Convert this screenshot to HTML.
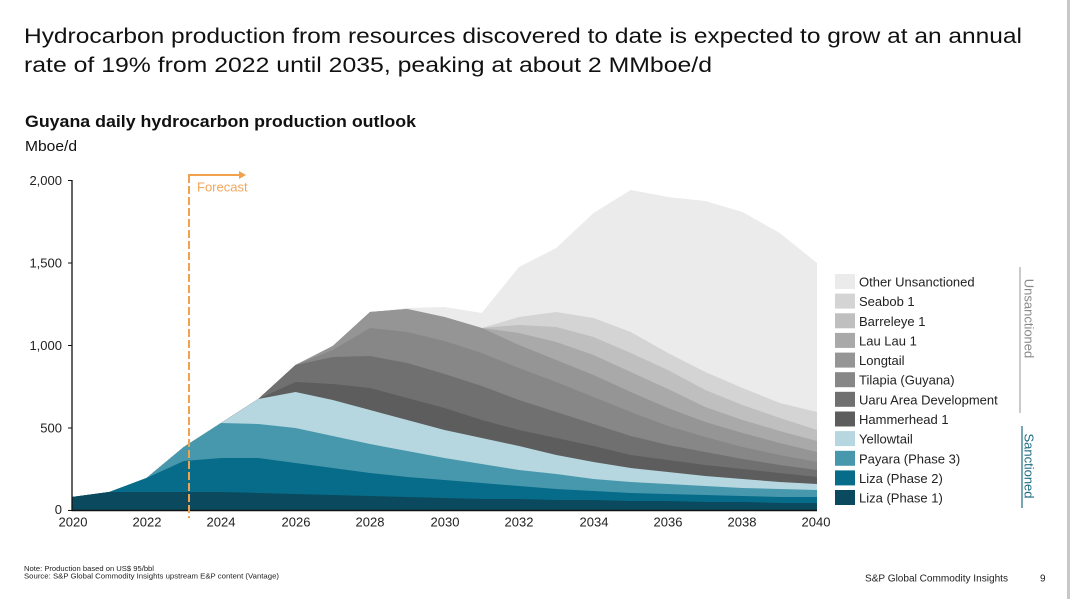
<!DOCTYPE html>
<html>
<head>
<meta charset="utf-8">
<style>
  html, body { margin: 0; padding: 0; background: #ffffff; }
  body { width: 1070px; height: 599px; overflow: hidden; }
  svg { display: block; font-family: "Liberation Sans", Arial, sans-serif; }
</style>
</head>
<body>
<svg width="1070" height="599" viewBox="0 0 1070 599" xmlns="http://www.w3.org/2000/svg">
  <rect x="0" y="0" width="1070" height="599" fill="#ffffff"/>
  <!-- right slide border -->
  <rect x="1067" y="0" width="3" height="599" fill="#c8c8c8"/>

  <!-- Titles -->
  <text x="24" y="43" font-size="21.5" fill="#111111" textLength="998" lengthAdjust="spacingAndGlyphs">Hydrocarbon production from resources discovered to date is expected to grow at an annual</text>
  <text x="24" y="72" font-size="21.5" fill="#111111" textLength="688" lengthAdjust="spacingAndGlyphs">rate of 19% from 2022 until 2035, peaking at about 2 MMboe/d</text>
  <text x="25" y="127" font-size="16.5" font-weight="bold" fill="#111111" textLength="391" lengthAdjust="spacingAndGlyphs">Guyana daily hydrocarbon production outlook</text>
  <text x="25" y="151" font-size="14.5" fill="#111111" textLength="52" lengthAdjust="spacingAndGlyphs">Mboe/d</text>

  <!-- Stacked areas (painted top layer first) -->
  <polygon fill="#ebebeb" points="72,497 109.25,492 146.5,478 183.75,447 221,423 258.25,399 295.5,365 332.75,346 370,312 407.25,308 444.5,307 481.75,313 519,267 556.25,248 593.5,213 630.75,190 668,197 705.25,201 742.5,212 779.75,233 817,263 817,510 72,510"/>
  <polygon fill="#d4d4d4" points="72,497 109.25,492 146.5,478 183.75,447 221,423 258.25,399 295.5,365 332.75,346 370,312 407.25,309 444.5,317 481.75,328 519,317 556.25,312 593.5,318 630.75,332 668,353 705.25,372 742.5,388 779.75,403 817,412 817,510 72,510"/>
  <polygon fill="#bfbfbf" points="72,497 109.25,492 146.5,478 183.75,447 221,423 258.25,399 295.5,365 332.75,346 370,312 407.25,309 444.5,317 481.75,328 519,325 556.25,327 593.5,337 630.75,353 668,370 705.25,390 742.5,405 779.75,418 817,430 817,510 72,510"/>
  <polygon fill="#a9a9a9" points="72,497 109.25,492 146.5,478 183.75,447 221,423 258.25,399 295.5,365 332.75,346 370,312 407.25,309 444.5,317 481.75,328 519,333 556.25,342 593.5,355 630.75,372 668,389 705.25,407 742.5,420 779.75,431 817,441 817,510 72,510"/>
  <polygon fill="#959595" points="72,497 109.25,492 146.5,478 183.75,447 221,423 258.25,399 295.5,365 332.75,346 370,312 407.25,309 444.5,317 481.75,328 519,345 556.25,360 593.5,375 630.75,392 668,408 705.25,422 742.5,433 779.75,443 817,452 817,510 72,510"/>
  <polygon fill="#878787" points="72,497 109.25,492 146.5,478 183.75,447 221,423 258.25,399 295.5,365 332.75,350 370,328 407.25,332 444.5,341 481.75,353 519,368 556.25,382 593.5,397 630.75,412 668,426 705.25,437 742.5,447 779.75,455 817,462 817,510 72,510"/>
  <polygon fill="#707070" points="72,497 109.25,492 146.5,478 183.75,447 221,423 258.25,399 295.5,365 332.75,357 370,356 407.25,363 444.5,374 481.75,386 519,400 556.25,412 593.5,424 630.75,436 668,445 705.25,452 742.5,459 779.75,465 817,470 817,510 72,510"/>
  <polygon fill="#5d5d5d" points="72,497 109.25,492 146.5,478 183.75,447 221,423 258.25,399 295.5,382 332.75,384 370,388 407.25,398 444.5,408 481.75,420 519,430 556.25,438 593.5,446 630.75,455 668,460 705.25,465 742.5,469 779.75,473 817,477 817,510 72,510"/>
  <polygon fill="#b6d7df" points="72,497 109.25,492 146.5,478 183.75,447 221,423 258.25,399 295.5,392 332.75,400 370,410 407.25,420 444.5,430 481.75,438 519,446 556.25,455 593.5,462 630.75,468 668,472 705.25,476 742.5,479 779.75,482 817,484 817,510 72,510"/>
  <polygon fill="#4898ad" points="72,497 109.25,492 146.5,478 183.75,447 221,423 258.25,424 295.5,428 332.75,436 370,444 407.25,451 444.5,458 481.75,464 519,470 556.25,474 593.5,479 630.75,482 668,484 705.25,486 742.5,488 779.75,489 817,490 817,510 72,510"/>
  <polygon fill="#076c89" points="72,497 109.25,492 146.5,478 183.75,461 221,458 258.25,458 295.5,463 332.75,468 370,473 407.25,477 444.5,480 481.75,483 519,486 556.25,489 593.5,491 630.75,493 668,494 705.25,495 742.5,496 779.75,497 817,497 817,510 72,510"/>
  <polygon fill="#0b4a5e" points="72,497 109.25,492 146.5,492 183.75,492 221,492 258.25,493 295.5,494 332.75,495 370,496 407.25,497 444.5,498 481.75,499 519,499 556.25,500 593.5,500 630.75,501 668,501 705.25,502 742.5,502 779.75,503 817,503 817,510 72,510"/>

  <!-- Axes -->
  <line x1="72" y1="180" x2="72" y2="510.5" stroke="#111" stroke-width="1.3"/>
  <line x1="71.5" y1="510.5" x2="817" y2="510.5" stroke="#111" stroke-width="1.5"/>
  <g stroke="#111" stroke-width="1">
    <line x1="68" y1="180.5" x2="72" y2="180.5"/>
    <line x1="68" y1="263" x2="72" y2="263"/>
    <line x1="68" y1="345.5" x2="72" y2="345.5"/>
    <line x1="68" y1="428" x2="72" y2="428"/>
    <line x1="68" y1="510.5" x2="72" y2="510.5"/>
  </g>
  <g font-size="13" fill="#222" text-anchor="end">
    <text x="62" y="185">2,000</text>
    <text x="62" y="267.5">1,500</text>
    <text x="62" y="350">1,000</text>
    <text x="62" y="432.5">500</text>
    <text x="62" y="514">0</text>
  </g>
  <g font-size="13" fill="#222" text-anchor="middle">
    <text x="73" y="526.5">2020</text>
    <text x="147" y="526.5">2022</text>
    <text x="221" y="526.5">2024</text>
    <text x="296" y="526.5">2026</text>
    <text x="370" y="526.5">2028</text>
    <text x="445" y="526.5">2030</text>
    <text x="519" y="526.5">2032</text>
    <text x="594" y="526.5">2034</text>
    <text x="668" y="526.5">2036</text>
    <text x="742" y="526.5">2038</text>
    <text x="816" y="526.5">2040</text>
  </g>

  <!-- Forecast marker -->
  <line x1="189" y1="175" x2="189" y2="518" stroke="#f0a24e" stroke-width="2" stroke-dasharray="8,3"/>
  <line x1="188" y1="175" x2="240" y2="175" stroke="#f0a24e" stroke-width="2"/>
  <polygon points="239,171 246,175 239,179" fill="#f0a24e"/>
  <text x="197" y="191.5" font-size="13" fill="#f2a65a">Forecast</text>

  <!-- Legend -->
  <g font-size="13" fill="#222">
    <rect x="835" y="274" width="20" height="15" fill="#ebebeb"/><text x="859" y="286.5">Other Unsanctioned</text>
    <rect x="835" y="293.6" width="20" height="15" fill="#d4d4d4"/><text x="859" y="306.1">Seabob 1</text>
    <rect x="835" y="313.3" width="20" height="15" fill="#bfbfbf"/><text x="859" y="325.8">Barreleye 1</text>
    <rect x="835" y="332.9" width="20" height="15" fill="#a9a9a9"/><text x="859" y="345.4">Lau Lau 1</text>
    <rect x="835" y="352.6" width="20" height="15" fill="#959595"/><text x="859" y="365.1">Longtail</text>
    <rect x="835" y="372.2" width="20" height="15" fill="#878787"/><text x="859" y="384.7">Tilapia (Guyana)</text>
    <rect x="835" y="391.8" width="20" height="15" fill="#707070"/><text x="859" y="404.3">Uaru Area Development</text>
    <rect x="835" y="411.5" width="20" height="15" fill="#5d5d5d"/><text x="859" y="424">Hammerhead 1</text>
    <rect x="835" y="431.1" width="20" height="15" fill="#b6d7df"/><text x="859" y="443.6">Yellowtail</text>
    <rect x="835" y="450.8" width="20" height="15" fill="#4898ad"/><text x="859" y="463.3">Payara (Phase 3)</text>
    <rect x="835" y="470.4" width="20" height="15" fill="#076c89"/><text x="859" y="482.9">Liza (Phase 2)</text>
    <rect x="835" y="490" width="20" height="15" fill="#0b4a5e"/><text x="859" y="502.5">Liza (Phase 1)</text>
  </g>

  <!-- Brackets -->
  <line x1="1020" y1="267" x2="1020" y2="413" stroke="#a8a8a8" stroke-width="1.2"/>
  <text x="1024.5" y="318.5" font-size="13" fill="#8a8a8a" text-anchor="middle" transform="rotate(90 1024.5 318.5)">Unsanctioned</text>
  <line x1="1022" y1="426" x2="1022" y2="508" stroke="#1e6c82" stroke-width="1.2"/>
  <text x="1024.5" y="466" font-size="13" fill="#1e6c82" text-anchor="middle" transform="rotate(90 1024.5 466)">Sanctioned</text>

  <!-- Footer -->
  <text x="24" y="571" font-size="7.5" fill="#222" textLength="130" lengthAdjust="spacingAndGlyphs">Note: Production based on US$ 95/bbl</text>
  <text x="24" y="578.5" font-size="7.5" fill="#222" textLength="255" lengthAdjust="spacingAndGlyphs">Source: S&amp;P Global Commodity Insights upstream E&amp;P content (Vantage)</text>
  <text x="865" y="581.5" font-size="10" fill="#222" textLength="143" lengthAdjust="spacingAndGlyphs">S&amp;P Global Commodity Insights</text>
  <text x="1040" y="581.5" font-size="10" fill="#222">9</text>
</svg>
</body>
</html>
